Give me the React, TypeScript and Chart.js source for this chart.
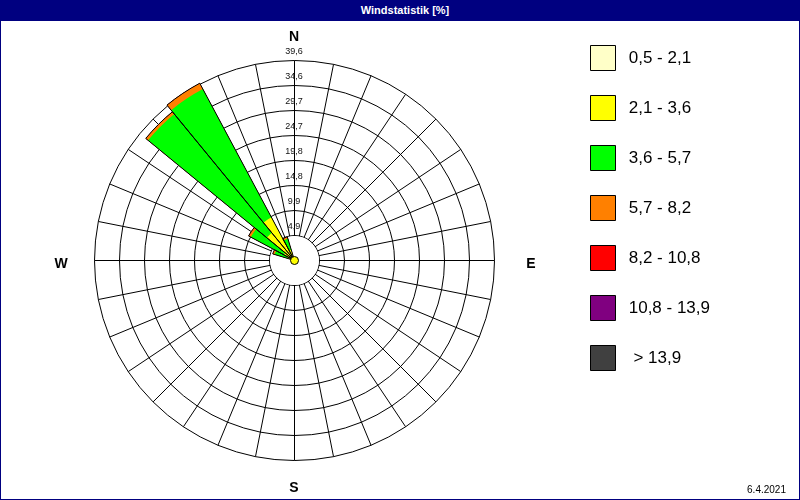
import React, { useEffect, useRef } from 'react';
import { Chart, registerables } from 'chart.js';

Chart.register(...registerables);

// 32 compass sectors, clockwise from north
const directions = [
  'N', 'NzO', 'NNO', 'NOzN', 'NO', 'NOzO', 'ONO', 'OzN',
  'O', 'OzS', 'OSO', 'SOzO', 'SO', 'SOzS', 'SSO', 'SzO',
  'S', 'SzW', 'SSW', 'SWzS', 'SW', 'SWzW', 'WSW', 'WzS',
  'W', 'WzN', 'WNW', 'NWzW', 'NW', 'NWzN', 'NNW', 'NzW',
];

// frequency [%] per direction, one array per wind speed class (m/s)
const speed05to21 = [0, 0, 0, 0, 0, 0, 0, 0, 0, 0, 0, 0, 0, 0, 0, 0, 0, 0, 0, 0, 0, 0, 0, 0, 0, 0, 0.3, 0.4, 0.6, 0.7, 0.4, 0];
const speed21to36 = [0, 0, 0, 0, 0, 0, 0, 0, 0, 0, 0, 0, 0, 0, 0, 0, 0, 0, 0, 0, 0, 0, 0, 0, 0, 0, 1.2, 2.0, 6.5, 9.0, 1.8, 0];
const speed36to57 = [0, 0, 0, 0, 0, 0, 0, 0, 0, 0, 0, 0, 0, 0, 0, 0, 0, 0, 0, 0, 0, 0, 0, 0, 0, 0, 2.6, 7.4, 30.4, 28.8, 2.3, 0];
const speed57to82 = [0, 0, 0, 0, 0, 0, 0, 0, 0, 0, 0, 0, 0, 0, 0, 0, 0, 0, 0, 0, 0, 0, 0, 0, 0, 0, 0.4, 0.5, 0.6, 1.3, 0.4, 0];
const speed82to108 = [0, 0, 0, 0, 0, 0, 0, 0, 0, 0, 0, 0, 0, 0, 0, 0, 0, 0, 0, 0, 0, 0, 0, 0, 0, 0, 0, 0, 0, 0, 0, 0];
const speed108to139 = [0, 0, 0, 0, 0, 0, 0, 0, 0, 0, 0, 0, 0, 0, 0, 0, 0, 0, 0, 0, 0, 0, 0, 0, 0, 0, 0, 0, 0, 0, 0, 0];
const speedAbove139 = [0, 0, 0, 0, 0, 0, 0, 0, 0, 0, 0, 0, 0, 0, 0, 0, 0, 0, 0, 0, 0, 0, 0, 0, 0, 0, 0, 0, 0, 0, 0, 0];

const speedClassLabels = ['0,5 - 2,1', '2,1 - 3,6', '3,6 - 5,7', '5,7 - 8,2', '8,2 - 10,8', '10,8 - 13,9', '> 13,9'];
const speedClassColors = ['#FFFFC8', '#FFFF00', '#00FF00', '#FF8000', '#FF0000', '#800080', '#404040'];

const tickValues = [0, 4.95, 9.9, 14.85, 19.8, 24.75, 29.7, 34.65, 39.6];
const tickLabels = ['', '4,9', '9,9', '14,8', '19,8', '24,7', '29,7', '34,6', '39,6'];

const chartTitle = 'Windstatistik [%]';
const dateLabel = '6.4.2021';
const northLabel = 'N';
const southLabel = 'S';
const eastLabel = 'E';
const westLabel = 'W';

const FONT = '"Liberation Sans", Arial, sans-serif';
const LEGEND_FONT_SIZE = 17;
const LEGEND_BOX = 25;
const LEGEND_PAD = 25;
const LEGEND_LEFT = 565.5; // left edge of the legend block
const PLOT_LEFT = 22.5;

const speedSeries = [speed05to21, speed21to36, speed36to57, speed57to82, speed82to108, speed108to139, speedAbove139];

// stacked (cumulative) values per class
const cumulative = speedSeries.map((_, k) =>
  directions.map((__, i) => speedSeries.slice(0, k + 1).reduce((s, arr) => s + arr[i], 0))
);

// sector geometry: the north sector is split in two halves so that each
// wedge is centred on its direction while the radial grid lines stay on the directions
const sectorWidth = 360 / directions.length;
const sectorAngles = [sectorWidth / 2, ...directions.slice(1).map(() => sectorWidth), sectorWidth / 2];
const toSectors = (arr: number[]) => [arr[0], ...arr.slice(1), arr[0]];
const angleOf = (ctx: any) => sectorAngles[ctx.dataIndex];

const legendText = (t: string) => (t.startsWith('>') ? '  ' : ' ') + t;

const roseOverlay = {
  id: 'roseOverlay',
  beforeDatasetsDraw(chart: any) {
    const s = chart.scales.r;
    const ctx = chart.ctx;
    ctx.save();
    ctx.fillStyle = '#ffffff';
    ctx.beginPath();
    ctx.arc(s.xCenter, s.yCenter, s.getDistanceFromCenterForValue(tickValues[1]) - 0.5, 0, Math.PI * 2);
    ctx.fill();
    ctx.restore();
  },
  afterDatasetsDraw(chart: any) {
    const s = chart.scales.r;
    const ctx = chart.ctx;
    const cx = s.xCenter;
    const cy = s.yCenter;
    ctx.save();
    // calm marker
    ctx.fillStyle = '#FFFF00';
    ctx.strokeStyle = '#000';
    ctx.lineWidth = 1;
    ctx.beginPath();
    ctx.arc(cx, cy, 4, 0, Math.PI * 2);
    ctx.fill();
    ctx.stroke();
    // ring values along the north axis
    ctx.fillStyle = '#111';
    ctx.font = `9px ${FONT}`;
    ctx.textAlign = 'center';
    ctx.textBaseline = 'middle';
    tickValues.forEach((v, i) => {
      if (!tickLabels[i]) return;
      const r = s.getDistanceFromCenterForValue(v);
      ctx.fillText(tickLabels[i], cx - 0.5, cy - r - 9);
    });
    // east / west
    const R = s.drawingArea;
    ctx.fillStyle = '#000';
    ctx.font = `bold 14px ${FONT}`;
    ctx.fillText(eastLabel, cx + R + 36.5, cy + 3.5);
    ctx.fillText(westLabel, cx - R - 33.5, cy + 3.5);
    ctx.restore();
  },
};

export default function App() {
  const ref = useRef<HTMLCanvasElement>(null);

  useEffect(() => {
    const canvas = ref.current;
    if (!canvas) return;

    const datasets: any[] = [
      {
        label: 'outline',
        data: toSectors(cumulative[cumulative.length - 1]),
        backgroundColor: 'rgba(0,0,0,0)',
        borderColor: '#000',
        borderWidth: 1,
        angle: angleOf,
      },
      ...cumulative.map((vals, k) => ({
        label: speedClassLabels[k],
        data: toSectors(vals),
        backgroundColor: speedClassColors[k],
        borderWidth: 0,
        angle: angleOf,
      })),
    ];

    // right padding so that the legend block starts at LEGEND_LEFT
    const rightPadding = (c: any) => {
      const g = c.chart.ctx;
      g.save();
      g.font = `${LEGEND_FONT_SIZE}px ${FONT}`;
      const w = Math.max(...speedClassLabels.map((t) => g.measureText(legendText(t)).width));
      g.restore();
      const legendWidth = LEGEND_PAD + LEGEND_BOX + LEGEND_FONT_SIZE / 2 + w + 10;
      return Math.max(0, c.chart.width - LEGEND_LEFT - legendWidth);
    };

    const chart = new Chart(canvas, {
      type: 'polarArea',
      data: { labels: directions, datasets },
      plugins: [roseOverlay],
      options: {
        responsive: false,
        maintainAspectRatio: false,
        animation: false,
        events: [],
        layout: {
          padding: (c: any) => ({ left: PLOT_LEFT, right: rightPadding(c), top: 0, bottom: 0 }),
        },
        scales: {
          r: {
            type: 'radialLinear',
            min: 0,
            max: 39.6,
            startAngle: 0,
            afterBuildTicks: (scale: any) => {
              scale.ticks = tickValues.map((v) => ({ value: v }));
            },
            afterFit: (scale: any) => {
              // pixel-align the grid
              scale.xCenter += 0.5;
              scale.yCenter -= 0.5;
            },
            ticks: { display: false },
            grid: { display: true, circular: true, color: '#000', lineWidth: 1 },
            angleLines: { display: true, color: '#000', lineWidth: 1 },
            pointLabels: { display: false },
          },
        } as any,
        plugins: {
          tooltip: { enabled: false },
          title: {
            display: true,
            text: northLabel,
            position: 'top',
            fullSize: false,
            color: '#000',
            font: { family: FONT, size: 14, weight: 'bold', lineHeight: 1.2 },
            padding: { top: 28.6, bottom: 15.6 },
          },
          subtitle: {
            display: true,
            text: southLabel,
            position: 'bottom',
            fullSize: false,
            color: '#000',
            font: { family: FONT, size: 14, weight: 'bold', lineHeight: 1.2 },
            padding: { top: 18.6, bottom: 3.6 },
          },
          legend: {
            display: true,
            position: 'right',
            align: 'start',
            title: { display: true, text: '', font: { size: 10, lineHeight: 1.2 }, padding: { top: 4, bottom: 4.5 } },
            labels: {
              boxWidth: LEGEND_BOX,
              boxHeight: LEGEND_BOX,
              padding: LEGEND_PAD,
              color: '#000',
              font: { family: FONT, size: LEGEND_FONT_SIZE },
              generateLabels: () =>
                speedClassLabels.map((t, i) => ({
                  text: legendText(t),
                  fillStyle: speedClassColors[i],
                  strokeStyle: '#000',
                  lineWidth: 1,
                  fontColor: '#000',
                  hidden: false,
                  datasetIndex: i + 1,
                })),
            },
          },
        } as any,
      } as any,
    });

    return () => chart.destroy();
  }, []);

  return (
    <div style={{ position: 'fixed', left: 0, top: 0, width: 800, height: 500, overflow: 'hidden', background: '#fff' }}>
      <canvas ref={ref} width={800} height={500} style={{ position: 'absolute', left: 0, top: 0, width: 800, height: 500 }} />
      <div
        style={{
          position: 'absolute', left: 0, top: 0, width: 800, height: 21, boxSizing: 'border-box', paddingLeft: 10,
          background: '#000080', color: '#fff', font: `bold 11px ${FONT}`, lineHeight: '21px', textAlign: 'center',
        }}
      >
        {chartTitle}
      </div>
      <div style={{ position: 'absolute', left: 0, top: 0, width: 800, height: 500, boxSizing: 'border-box', border: '1px solid #000080', pointerEvents: 'none' }} />
      <div style={{ position: 'absolute', right: 14, top: 484, font: `10px ${FONT}`, lineHeight: '12px', color: '#000' }}>
        {dateLabel}
      </div>
    </div>
  );
}
